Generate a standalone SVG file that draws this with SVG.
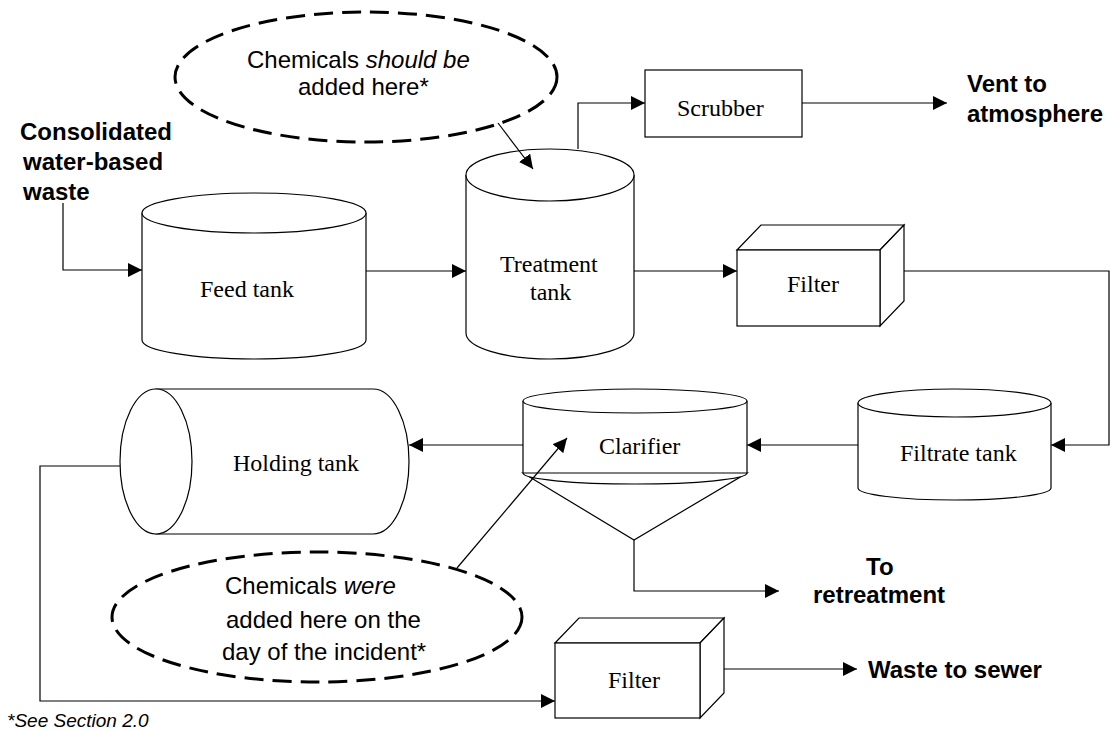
<svg xmlns="http://www.w3.org/2000/svg" width="1111" height="731" viewBox="0 0 1111 731">
<style>
.sh{fill:#fff;stroke:#000;stroke-width:1.2}
.ln{fill:none;stroke:#000;stroke-width:1.2}
.cn{fill:none;stroke:#000;stroke-width:1.2;marker-end:url(#ah)}
.dash{fill:none;stroke:#000;stroke-width:3;stroke-dasharray:19 9}
.tm{font-family:"Liberation Serif","Times New Roman",serif;font-size:24px;fill:#000}
.ar{font-family:"Liberation Sans",Arial,sans-serif;font-size:24px;fill:#000}
.bd{font-family:"Liberation Sans",Arial,sans-serif;font-size:24px;font-weight:bold;fill:#000}
</style>
<defs>
<marker id="ah" markerUnits="userSpaceOnUse" markerWidth="14" markerHeight="14" refX="14" refY="7" orient="auto">
<path d="M0,0 L14,7 L0,14 z" fill="#000"/>
</marker>
</defs>
<rect width="1111" height="731" fill="#fff"/>

<g id="feed-tank">
<path class="sh" d="M142,213 V340 A112,19 0 0 0 366,340 V213"/>
<ellipse class="sh" cx="254" cy="213" rx="112" ry="20"/>
<text class="tm" x="200" y="297">Feed tank</text>
</g>

<g id="treatment-tank">
<path class="sh" d="M466,175 V333 A84,26 0 0 0 634,333 V175"/>
<ellipse class="sh" cx="550" cy="175" rx="84" ry="26"/>
<text class="tm" x="500" y="272">Treatment</text>
<text class="tm" x="530" y="300">tank</text>
</g>

<g id="scrubber">
<rect class="sh" x="645" y="70" width="157" height="67"/>
<text class="tm" x="677" y="116">Scrubber</text>
</g>

<g id="filter-top">
<path class="sh" d="M737,250 L761,225 H904 L880,250 Z"/>
<path class="sh" d="M880,250 L904,225 V301 L880,326 Z"/>
<rect class="sh" x="737" y="250" width="143" height="76"/>
<text class="tm" x="787" y="292">Filter</text>
</g>

<g id="filtrate-tank">
<path class="sh" d="M858,403 V488 A96.5,12 0 0 0 1051,488 V403"/>
<ellipse class="sh" cx="954.5" cy="403" rx="96.5" ry="14"/>
<text class="tm" x="900" y="461">Filtrate tank</text>
</g>

<g id="clarifier">
<path class="sh" d="M523,473 L634,540 L747,473 Z"/>
<path class="sh" d="M523,401 V473 A112,11 0 0 0 747,473 V401"/>
<line class="ln" x1="523" y1="473" x2="747" y2="473"/>
<ellipse class="sh" cx="635" cy="401" rx="112" ry="12"/>
<text class="tm" x="599" y="454">Clarifier</text>
</g>

<g id="holding-tank">
<path class="sh" d="M156,389 H373 A36,72.5 0 0 1 373,534 H156 Z"/>
<ellipse class="sh" cx="156" cy="461.5" rx="36" ry="72.5"/>
<text class="tm" x="233" y="471">Holding tank</text>
</g>

<g id="filter-bottom">
<path class="sh" d="M555,643 L579,618 H724 L700,643 Z"/>
<path class="sh" d="M700,643 L724,618 V693 L700,718 Z"/>
<rect class="sh" x="555" y="643" width="145" height="75"/>
<text class="tm" x="608" y="688">Filter</text>
</g>

<g id="note-should">
<ellipse class="dash" cx="366" cy="77" rx="191" ry="65"/>
<text class="ar" x="247" y="68">Chemicals <tspan font-style="italic">should be</tspan></text>
<text class="ar" x="298" y="95">added here*</text>
</g>

<g id="note-were">
<ellipse class="dash" cx="317" cy="617" rx="205" ry="65"/>
<text class="ar" x="225" y="594">Chemicals <tspan font-style="italic">were</tspan></text>
<text class="ar" x="226" y="628">added here on the</text>
<text class="ar" x="222" y="660">day of the incident*</text>
</g>

<g id="label-inlet">
<text class="bd" x="20" y="140">Consolidated</text>
<text class="bd" x="23" y="170">water-based</text>
<text class="bd" x="23" y="200">waste</text>
</g>

<g id="label-vent">
<text class="bd" x="967" y="92">Vent to</text>
<text class="bd" x="967" y="122">atmosphere</text>
</g>

<g id="label-retreatment">
<text class="bd" x="866" y="575">To</text>
<text class="bd" x="813" y="603">retreatment</text>
</g>

<g id="label-sewer">
<text class="bd" x="868" y="678">Waste to sewer</text>
</g>

<text x="7" y="727" font-family="Liberation Sans, Arial, sans-serif" font-size="19" font-style="italic">*See Section 2.0</text>

<g id="connectors">
<path class="cn" d="M63,203 V270 H142"/>
<path class="cn" d="M366,271 H466"/>
<path class="cn" d="M578,149 V103 H645"/>
<path class="cn" d="M802,103 H947"/>
<path class="cn" d="M634,271 H737"/>
<path class="cn" d="M904,271 H1109 V445 H1051"/>
<path class="cn" d="M858,445 H747"/>
<path class="cn" d="M523,445 H409"/>
<path class="cn" d="M634,540 V591 H779"/>
<path class="cn" d="M120,466 H40 V701 H555"/>
<path class="cn" d="M724,669 H857"/>
<path class="cn" d="M498,123 L533,169"/>
<path class="cn" d="M457,568 L567,438"/>
</g>
</svg>
